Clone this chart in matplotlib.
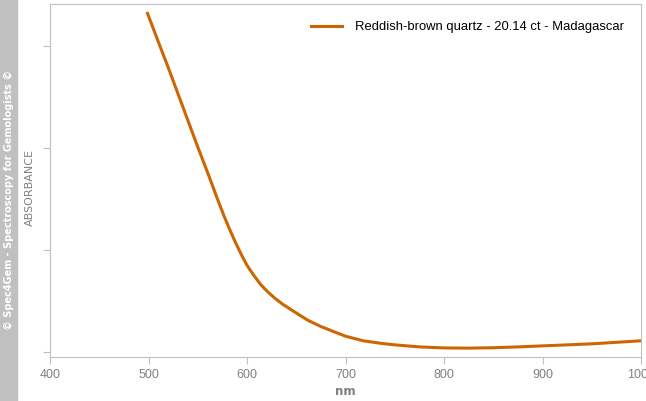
import matplotlib.pyplot as plt
import numpy as np

# values (arbitrary absorbance units)
wavelength = [499, 510, 520, 530, 540, 550, 560, 570, 576, 582, 588, 594, 600,
              607, 614, 621, 628, 636, 644, 652, 662, 675, 688, 700, 718, 736,
              750, 775, 800, 825, 850, 875, 900, 925, 950, 975, 1000]
absorbance = [3.32, 3.04, 2.79, 2.53, 2.27, 2.01, 1.76, 1.50, 1.35, 1.21, 1.08,
              0.96, 0.85, 0.75, 0.66, 0.59, 0.53, 0.47, 0.42, 0.37, 0.31, 0.25,
              0.20, 0.155, 0.11, 0.085, 0.07, 0.05, 0.04, 0.038, 0.042, 0.05,
              0.06, 0.07, 0.08, 0.095, 0.11]
label = "Reddish-brown quartz - 20.14 ct - Madagascar"
xticks = [400, 500, 600, 700, 800, 900, 1000]
yticks = [0, 1, 2, 3]

grey = '#c0c0c0'
txt = '#808080'

fig = plt.figure(figsize=(6.46, 4.01), dpi=100)
ax = fig.add_axes([50/646, 44/401, 591/646, 353/401])

ax.plot(wavelength, absorbance, color='#cc6600', lw=2.2, label=label)
ax.set_xlim(400, 1000)
ax.set_ylim(-0.049, 3.412)
ax.set_xticks(xticks)
ax.set_yticks(yticks)
ax.set_yticklabels([])
for s in ax.spines.values():
    s.set_color(grey)
ax.tick_params(colors=grey, labelcolor=txt, length=5, labelsize=9)
for t in ax.get_xticklabels():
    t.set_family('Liberation Sans')

ax.set_xlabel('nm', color=txt, fontsize=8.6, fontweight='bold', labelpad=3)
fig.text(30/646, 1 - 188/401, 'ABSORBANCE', rotation=90, color=txt,
         fontsize=8, ha='center', va='center')

leg = ax.legend(loc='upper right', frameon=False, handlelength=2.4,
                handletextpad=1.0,
                prop={'family': 'Liberation Sans', 'size': 9.4},
                bbox_to_anchor=(0.991, 0.985))

# copyright band on the left
fig.patches.append(plt.Rectangle((0, 0), 17/646, 1, transform=fig.transFigure,
                                 color=grey, zorder=0))
fig.text(9/646, 1 - 200/401, '© Spec4Gem - Spectroscopy for Gemologists ©',
         rotation=90, color='white', fontsize=7, fontweight='bold',
         ha='center', va='center')

fig.savefig('out.png', dpi=100)
